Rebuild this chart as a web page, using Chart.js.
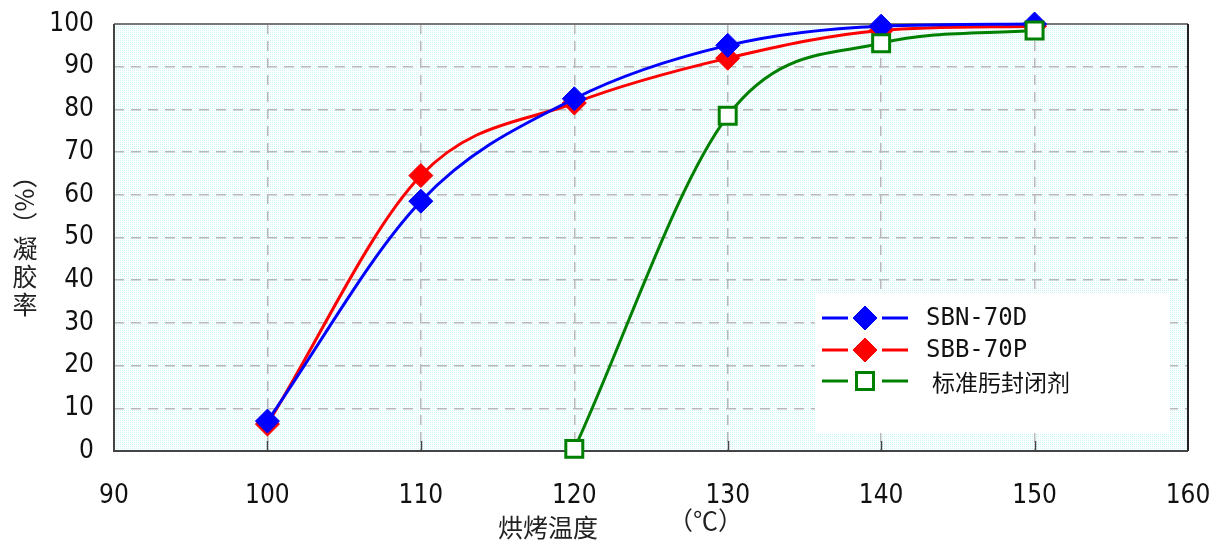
<!DOCTYPE html>
<html>
<head>
<meta charset="utf-8">
<script src="https://cdn.jsdelivr.net/npm/chart.js@4"></script>
<style>
  html, body { margin: 0; padding: 0; background: #fff; }
  #wrap { width: 1212px; height: 548px; }
</style>
</head>
<body>
<div id="wrap"><canvas id="gelChart"></canvas></div>
<script>
// baking temperature (°C)
const temps = [100, 110, 120, 130, 140, 150];
const greenTemps = [120, 130, 140, 150];

// gel fraction (%)
const sbn70d = [7, 58.5, 82.5, 95, 99.5, 100];
const sbb70p = [6.3, 64.5, 81.5, 92, 98.5, 99.5];
const standard = [0.5, 78.5, 95.5, 98.5];

const seriesNames = ['SBN-70D', 'SBB-70P', '标准肟封闭剂'];

const xTitle = '烘烤温度';
const xUnit = '（℃）';
const yTitle = '凝胶率';
const yUnit = '（%）';

const tickFont = { family: '"Liberation Sans Narrow", "DejaVu Sans Condensed", sans-serif', size: 26 };
const cjkFont = '"Noto Sans CJK SC", sans-serif';

function toPoints(xs, ys) {
    return xs.map((x, i) => ({ x: x, y: ys[i] }));
}

// dotted cyan fill like the original
function makePattern() {
    const p = document.createElement('canvas');
    p.width = 2; p.height = 2;
    const c = p.getContext('2d');
    c.fillStyle = '#fcffff';
    c.fillRect(0, 0, 2, 2);
    c.fillStyle = '#d0f3f3';
    c.fillRect(0, 0, 1, 1);
    return p;
}

const plotDecor = {
    id: 'plotDecor',
    beforeDraw(chart) {
        const { ctx, chartArea: a } = chart;
        ctx.save();
        ctx.fillStyle = ctx.createPattern(makePattern(), 'repeat');
        ctx.fillRect(a.left, a.top, a.right - a.left, a.bottom - a.top);
        ctx.restore();
    },
    beforeDatasetsDraw(chart) {
        const { ctx, chartArea: a, scales } = chart;
        ctx.save();
        // legend box (white) sits under the lines
        ctx.fillStyle = '#ffffff';
        ctx.fillRect(815, 293, 355, 140);
        // small inner ticks on bottom axis
        ctx.strokeStyle = '#444';
        ctx.lineWidth = 1.5;
        for (let v = 100; v < 160; v += 10) {
            const px = Math.round(scales.x.getPixelForValue(v)) + 0.5;
            ctx.beginPath();
            ctx.moveTo(px, a.bottom);
            ctx.lineTo(px, a.bottom - 10);
            ctx.stroke();
        }
        // frame
        ctx.strokeStyle = '#777';
        ctx.lineWidth = 2;
        ctx.beginPath();
        ctx.moveTo(a.left, a.top);
        ctx.lineTo(a.right, a.top);
        ctx.stroke();
        ctx.strokeStyle = '#222';
        ctx.beginPath();
        ctx.moveTo(a.right, a.top);
        ctx.lineTo(a.right, a.bottom);
        ctx.stroke();
        ctx.strokeStyle = '#444';
        ctx.beginPath();
        ctx.moveTo(a.left, a.top);
        ctx.lineTo(a.left, a.bottom);
        ctx.lineTo(a.right, a.bottom);
        ctx.stroke();
        ctx.restore();
    },
    afterDraw(chart) {
        const { ctx } = chart;
        ctx.save();
        // legend entries
        const rowY = [318, 350, 381];
        [0, 1, 2].forEach((di, row) => {
            const ds = chart.data.datasets[di];
            const y = rowY[row];
            ctx.strokeStyle = ds.borderColor;
            ctx.lineWidth = 3;
            ctx.beginPath();
            ctx.moveTo(822, y); ctx.lineTo(848, y);
            ctx.moveTo(882, y); ctx.lineTo(908, y);
            ctx.stroke();
            ctx.fillStyle = ds.pointBackgroundColor;
            ctx.strokeStyle = ds.pointBorderColor;
            ctx.lineWidth = ds.pointBorderWidth;
            ctx.beginPath();
            if (ds.pointStyle === 'rect') {
                const s = ds.pointRadius * Math.SQRT1_2;
                ctx.rect(865 - s, y - s, 2 * s, 2 * s);
            } else {
                const r = ds.pointRadius;
                ctx.moveTo(865, y - r); ctx.lineTo(865 + r, y);
                ctx.lineTo(865, y + r); ctx.lineTo(865 - r, y);
                ctx.closePath();
            }
            ctx.fill();
            ctx.stroke();
            ctx.fillStyle = '#111';
            ctx.textBaseline = 'middle';
            ctx.textAlign = 'left';
            if (di === 2) {
                ctx.font = '23px ' + cjkFont;
                ctx.fillText(ds.label, 932, y + 1);
            } else {
                ctx.font = '24px "DejaVu Sans Mono", monospace';
                ctx.fillText(ds.label, 926, y + 1);
            }
        });

        // x axis title
        ctx.fillStyle = '#222';
        ctx.font = '25px ' + cjkFont;
        ctx.textBaseline = 'middle';
        ctx.textAlign = 'left';
        ctx.fillText(xTitle, 498, 527);
        ctx.fillText(xUnit, 668, 520);

        // y axis title: unit rotated, characters stacked
        ctx.save();
        ctx.translate(24, 200);
        ctx.rotate(Math.PI / 2);
        ctx.textAlign = 'center';
        ctx.fillText(yUnit, 0, 0);
        ctx.restore();
        ctx.textAlign = 'center';
        for (let i = 0; i < yTitle.length; i++) {
            ctx.fillText(yTitle[i], 25, 248 + i * 28);
        }
        ctx.restore();
    }
};

const dashedGrid = {
    color: '#b8b8b8',
    lineWidth: 1.5,
    drawTicks: false
};

new Chart(document.getElementById('gelChart'), {
    type: 'line',
    data: {
        datasets: [{
            label: seriesNames[0],
            data: toPoints(temps, sbn70d),
            borderColor: '#0000ff',
            pointBackgroundColor: '#0000ff',
            pointBorderColor: '#0000ff',
            pointStyle: 'rectRot',
            pointRadius: 12,
            pointBorderWidth: 1,
            order: 1
        }, {
            label: seriesNames[1],
            data: toPoints(temps, sbb70p),
            borderColor: '#ff0000',
            pointBackgroundColor: '#ff0000',
            pointBorderColor: '#ff0000',
            pointStyle: 'rectRot',
            pointRadius: 12,
            pointBorderWidth: 1,
            order: 2
        }, {
            label: seriesNames[2],
            data: toPoints(greenTemps, standard),
            borderColor: '#008000',
            pointBackgroundColor: '#ffffff',
            pointBorderColor: '#008000',
            pointStyle: 'rect',
            pointRadius: 12,
            pointBorderWidth: 3,
            order: 0
        }]
    },
    options: {
        responsive: true,
        maintainAspectRatio: false,
        animation: false,
        layout: { padding: { top: 24, right: 24, left: 0, bottom: 0 } },
        elements: {
            line: { borderWidth: 3, cubicInterpolationMode: 'monotone', fill: false },
            point: { hoverRadius: 12 }
        },
        datasets: { line: { clip: false } },
        plugins: {
            legend: { display: false },
            tooltip: { enabled: false }
        },
        scales: {
            x: {
                type: 'linear',
                min: 90,
                max: 160,
                ticks: { stepSize: 10, color: '#111', font: tickFont, padding: 30 },
                grid: dashedGrid,
                border: { display: false, dash: [10, 7] },
                afterFit: s => { s.height = 97; s.paddingLeft = 0; s.paddingRight = 0; }
            },
            y: {
                min: 0,
                max: 100,
                ticks: { stepSize: 10, color: '#111', font: tickFont, padding: 20 },
                grid: dashedGrid,
                border: { display: false, dash: [10, 7] },
                afterFit: s => { s.width = 114; s.paddingTop = 0; s.paddingBottom = 0; }
            }
        }
    },
    plugins: [plotDecor]
});
</script>
</body>
</html>
